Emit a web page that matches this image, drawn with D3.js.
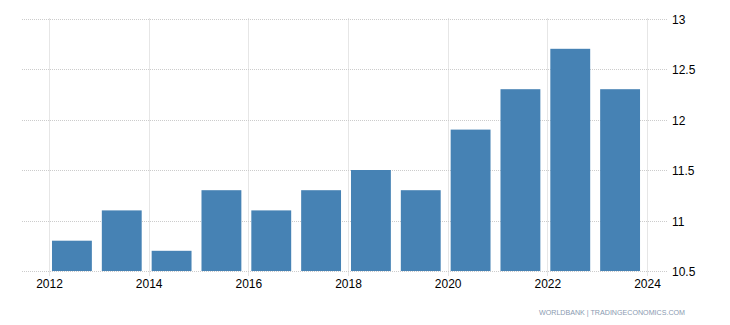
<!DOCTYPE html>
<html>
<head>
<meta charset="utf-8">
<script src="https://cdn.jsdelivr.net/npm/d3@7"></script>
<style>
  body { margin: 0; background: #fff; }
  svg { display: block; font-family: Arial, "Liberation Sans", sans-serif; }
</style>
</head>
<body>
<div id="chart"></div>
<script>
// values
const years = [2012, 2013, 2014, 2015, 2016, 2017, 2018, 2019, 2020, 2021, 2022, 2023];
const values = [10.8, 11.1, 10.7, 11.3, 11.1, 11.3, 11.5, 11.3, 11.9, 12.3, 12.7, 12.3];
const xTicks = [2012, 2014, 2016, 2018, 2020, 2022, 2024];
const yTicks = [10.5, 11, 11.5, 12, 12.5, 13];

const width = 730, height = 325;
const plotLeft = 22, plotRight = 668;

const svg = d3.select("#chart").append("svg")
    .attr("width", width)
    .attr("height", height);

const x = d3.scaleLinear().domain([2012, 2024]).range([49.5, 647.5]);
const y = d3.scaleLinear().domain([10.5, 13]).range([271, 18.5]);

// horizontal grid lines
svg.append("g")
    .selectAll("line")
    .data(yTicks)
    .enter()
    .append("line")
    .attr("x1", plotLeft)
    .attr("x2", plotRight)
    .attr("y1", d => Math.round(y(d)) + 0.5)
    .attr("y2", d => Math.round(y(d)) + 0.5)
    .attr("stroke", "#cccccc")
    .attr("stroke-dasharray", "1,1");

// vertical grid lines (with small tick below the axis)
svg.append("g")
    .selectAll("line")
    .data(xTicks)
    .enter()
    .append("line")
    .attr("x1", d => Math.floor(x(d)) + 0.5)
    .attr("x2", d => Math.floor(x(d)) + 0.5)
    .attr("y1", y(13))
    .attr("y2", y(10.5) + 5)
    .attr("stroke", "#cccccc")
    .attr("stroke-dasharray", "1,1");

// bars
svg.append("g")
    .selectAll("rect")
    .data(years)
    .enter()
    .append("rect")
    .attr("x", d => x(d + 0.05))
    .attr("width", d => x(d + 0.85) - x(d + 0.05))
    .attr("y", (d, i) => y(values[i]))
    .attr("height", (d, i) => y(10.5) - y(values[i]))
    .attr("fill", "#4682b4");

// y labels on the right
svg.append("g")
    .selectAll("text")
    .data(yTicks)
    .enter()
    .append("text")
    .attr("x", 672)
    .attr("y", d => y(d) + 5)
    .attr("font-size", "12px")
    .attr("fill", "#000")
    .text(d => d);

// x labels
svg.append("g")
    .selectAll("text")
    .data(xTicks)
    .enter()
    .append("text")
    .attr("x", d => x(d))
    .attr("y", 288)
    .attr("text-anchor", "middle")
    .attr("font-size", "12px")
    .attr("fill", "#000")
    .text(d => d);

// source note
svg.append("text")
    .attr("x", 539)
    .attr("y", 315)
    .attr("font-size", "8px")
    .attr("textLength", 146)
    .attr("lengthAdjust", "spacingAndGlyphs")
    .attr("fill", "#8a9ab0")
    .text("WORLDBANK | TRADINGECONOMICS.COM");
</script>
</body>
</html>
